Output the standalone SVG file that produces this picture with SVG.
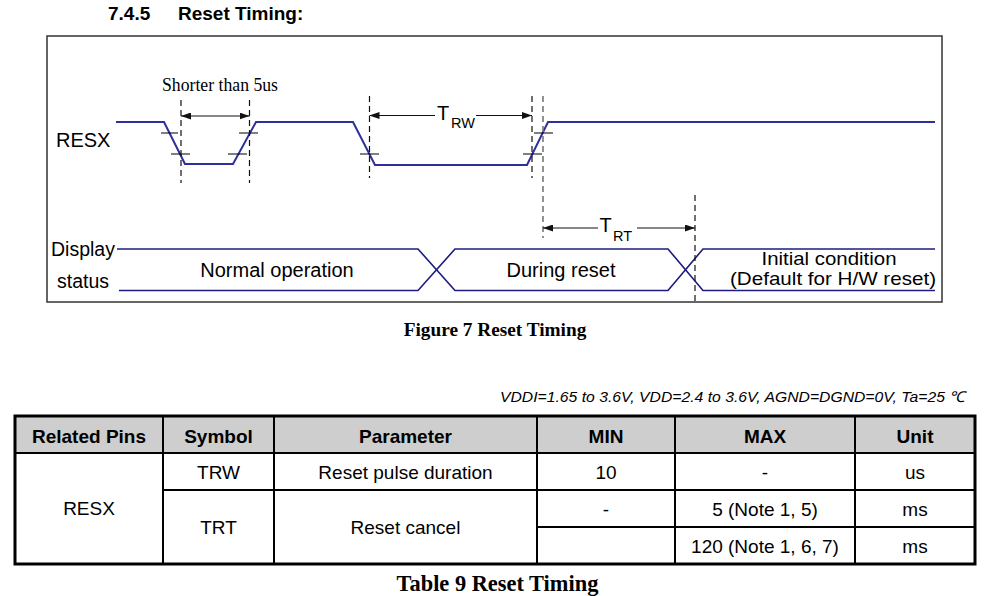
<svg xmlns="http://www.w3.org/2000/svg" width="984" height="596" viewBox="0 0 984 596">
<style>
.t{font-family:"Liberation Sans",Arial,sans-serif;fill:#000}
.b{font-weight:bold}
.s{font-family:"Liberation Serif","Times New Roman",serif;fill:#000}
.wave{fill:none;stroke:#2e2e9c;stroke-width:2;stroke-linejoin:miter}
.disp{fill:none;stroke:#1c1c80;stroke-width:1.6}
.tick{stroke:#000;stroke-width:1}
.dash{stroke:#111;stroke-width:1.2;stroke-dasharray:6,4}
.dashg{stroke:#777;stroke-width:1.6;stroke-dasharray:6,4}
.arr{stroke:#111;stroke-width:1.2;fill:none}
.grid{stroke:#000;stroke-width:2;fill:none}
</style>
<defs>
<marker id="ah" viewBox="0 0 10 7" refX="10" refY="3.5" markerWidth="10" markerHeight="7" markerUnits="userSpaceOnUse" orient="auto-start-reverse">
<path d="M0,0 L10,3.5 L0,7 z" fill="#111"/>
</marker>
</defs>
<rect width="984" height="596" fill="#fff"/>

<g id="title">
<text class="t b" x="108" y="20" font-size="19">7.4.5</text>
<text class="t b" x="178" y="20" font-size="19">Reset Timing:</text>
</g>

<g id="frame"><rect x="47" y="36" width="895" height="266" fill="none" stroke="#333" stroke-width="1.5"/></g>

<g id="resx-label"><text class="t" x="56" y="147" font-size="20">RESX</text></g>

<g id="resx-wave">
<polyline class="wave" points="116,122 164,122 185,164 233,164 256,122 353,122 375,165 527,165 548,122 935,122"/>
<line class="tick" x1="161" y1="133" x2="178" y2="133"/>
<line class="tick" x1="171" y1="154" x2="190" y2="154"/>
<line class="tick" x1="228" y1="154" x2="247" y2="154"/>
<line class="tick" x1="239" y1="133" x2="258" y2="133"/>
<line class="tick" x1="360" y1="154" x2="379" y2="154"/>
<line class="tick" x1="523" y1="154" x2="542" y2="154"/>
<line class="tick" x1="534" y1="133" x2="553" y2="133"/>
</g>

<g id="display-label">
<text class="t" x="51" y="256" font-size="19.5">Display</text>
<text class="t" x="57" y="288" font-size="19.5">status</text>
</g>

<g id="display-wave">
<polyline class="disp" points="117,249 418,249 455,290.5 668,290.5 703,249 935,249"/>
<polyline class="disp" points="119,290.5 418,290.5 455,249 668,249 703,290.5 935,290.5"/>
<text class="t" x="277" y="277" font-size="20" text-anchor="middle">Normal operation</text>
<text class="t" x="561" y="277" font-size="20" text-anchor="middle">During reset</text>
<text class="t" x="829" y="264.5" font-size="18.5" text-anchor="middle" textLength="135" lengthAdjust="spacingAndGlyphs">Initial condition</text>
<text class="t" x="833" y="285" font-size="18.5" text-anchor="middle" textLength="206" lengthAdjust="spacingAndGlyphs">(Default for H/W reset)</text>
</g>

<g id="connectors">
<line class="dash" x1="181" y1="100" x2="181" y2="183"/>
<line class="dash" x1="249.5" y1="100" x2="249.5" y2="183"/>
<line class="dash" x1="369.5" y1="96" x2="369.5" y2="178"/>
<line class="dash" x1="532" y1="96" x2="532" y2="178"/>
<line class="dashg" x1="543" y1="96" x2="543" y2="238"/>
<line class="dash" x1="695" y1="195" x2="695" y2="302"/>
<line class="arr" x1="181" y1="116" x2="249.5" y2="116" marker-start="url(#ah)" marker-end="url(#ah)"/>
<line class="arr" x1="435" y1="115.5" x2="369.5" y2="115.5" marker-end="url(#ah)"/>
<line class="arr" x1="476" y1="115.5" x2="532" y2="115.5" marker-end="url(#ah)"/>
<line class="arr" x1="598" y1="228" x2="543" y2="228" marker-end="url(#ah)"/>
<line class="arr" x1="637" y1="228" x2="695" y2="228" marker-end="url(#ah)"/>
</g>

<g id="labels">
<text class="s" x="162" y="91" font-size="18.5" textLength="116" lengthAdjust="spacingAndGlyphs">Shorter than 5us</text>
<text class="t" x="437" y="120" font-size="20">T</text>
<text class="t" x="451" y="127.5" font-size="14.5">RW</text>
<text class="t" x="599.5" y="232" font-size="20">T</text>
<text class="t" x="613" y="241" font-size="14.5">RT</text>
</g>

<g id="fig-caption"><text class="s b" x="495" y="336" font-size="19.3" text-anchor="middle">Figure 7 Reset Timing</text></g>

<g id="conditions"><text class="t" x="500" y="402" font-size="15" font-style="italic" textLength="465" lengthAdjust="spacingAndGlyphs">VDDI=1.65 to 3.6V, VDD=2.4 to 3.6V, AGND=DGND=0V, Ta=25 ℃</text></g>

<g id="table">
<rect x="15" y="416" width="960" height="37" fill="#cecece"/>
<line class="grid" x1="15" y1="453" x2="975" y2="453"/>
<line class="grid" x1="163" y1="490" x2="975" y2="490"/>
<line class="grid" x1="537" y1="527" x2="975" y2="527"/>
<line class="grid" x1="163" y1="416" x2="163" y2="564"/>
<line class="grid" x1="274" y1="416" x2="274" y2="564"/>
<line class="grid" x1="537" y1="416" x2="537" y2="564"/>
<line class="grid" x1="675" y1="416" x2="675" y2="564"/>
<line class="grid" x1="855" y1="416" x2="855" y2="564"/>
<rect x="15" y="416" width="960" height="148" fill="none" stroke="#000" stroke-width="3"/>
<g font-size="19" text-anchor="middle">
<text class="t b" x="89" y="443">Related Pins</text>
<text class="t b" x="218.5" y="443">Symbol</text>
<text class="t b" x="405.5" y="443">Parameter</text>
<text class="t b" x="606" y="443">MIN</text>
<text class="t b" x="765" y="443">MAX</text>
<text class="t b" x="915" y="443">Unit</text>
<text class="t" x="89" y="515">RESX</text>
<text class="t" x="218.5" y="479">TRW</text>
<text class="t" x="405.5" y="479">Reset pulse duration</text>
<text class="t" x="606" y="479">10</text>
<text class="t" x="765" y="479">-</text>
<text class="t" x="915" y="479">us</text>
<text class="t" x="218.5" y="534">TRT</text>
<text class="t" x="405.5" y="534">Reset cancel</text>
<text class="t" x="606" y="516">-</text>
<text class="t" x="765" y="516">5 (Note 1, 5)</text>
<text class="t" x="915" y="516">ms</text>
<text class="t" x="765" y="553">120 (Note 1, 6, 7)</text>
<text class="t" x="915" y="553">ms</text>
</g>
</g>

<g id="table-caption"><text class="s b" x="497.5" y="591" font-size="22.4" text-anchor="middle">Table 9 Reset Timing</text></g>
</svg>
